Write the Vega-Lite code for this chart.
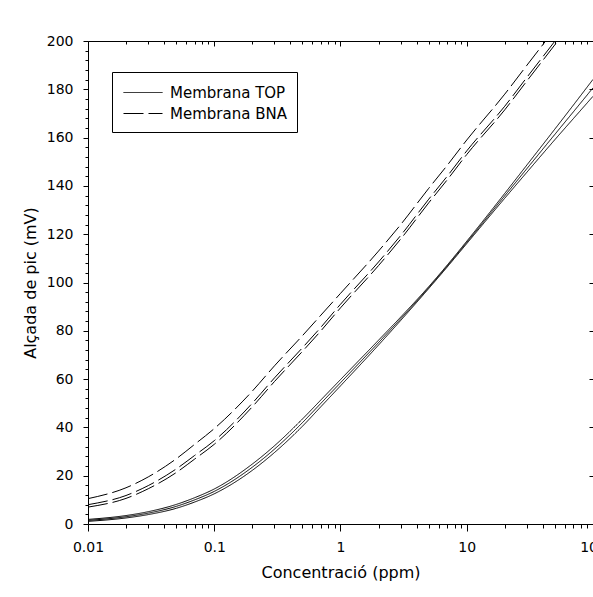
{
  "$schema": "https://vega.github.io/schema/vega-lite/v6.json",
  "width": 505,
  "height": 483,
  "autosize": {"type": "none"},
  "padding": {"left": 88, "top": 41, "right": 0, "bottom": 73},
  "background": "white",
  "config": {
    "view": {"stroke": null},
    "font": "DejaVu Sans",
    "axis": {"domainColor": "black", "tickColor": "black", "labelColor": "black", "titleColor": "black", "grid": false, "domainWidth": 1, "tickWidth": 1}
  },
  "datasets": {
    "curves": [
      {"c": 0.01, "v": 1.5, "s": "TOP", "m": "Membrana TOP"},
      {"c": 0.02, "v": 3.0, "s": "TOP", "m": "Membrana TOP"},
      {"c": 0.03, "v": 4.5, "s": "TOP", "m": "Membrana TOP"},
      {"c": 0.05, "v": 7.3, "s": "TOP", "m": "Membrana TOP"},
      {"c": 0.07, "v": 10.0, "s": "TOP", "m": "Membrana TOP"},
      {"c": 0.1, "v": 13.5, "s": "TOP", "m": "Membrana TOP"},
      {"c": 0.2, "v": 23.5, "s": "TOP", "m": "Membrana TOP"},
      {"c": 0.3, "v": 31, "s": "TOP", "m": "Membrana TOP"},
      {"c": 0.5, "v": 42, "s": "TOP", "m": "Membrana TOP"},
      {"c": 0.7, "v": 50, "s": "TOP", "m": "Membrana TOP"},
      {"c": 1, "v": 58.5, "s": "TOP", "m": "Membrana TOP"},
      {"c": 2, "v": 75.1, "s": "TOP", "m": "Membrana TOP"},
      {"c": 3, "v": 85, "s": "TOP", "m": "Membrana TOP"},
      {"c": 5, "v": 97.9, "s": "TOP", "m": "Membrana TOP"},
      {"c": 7, "v": 106.8, "s": "TOP", "m": "Membrana TOP"},
      {"c": 10, "v": 116.6, "s": "TOP", "m": "Membrana TOP"},
      {"c": 20, "v": 135.9, "s": "TOP", "m": "Membrana TOP"},
      {"c": 30, "v": 147.2, "s": "TOP", "m": "Membrana TOP"},
      {"c": 50, "v": 161.4, "s": "TOP", "m": "Membrana TOP"},
      {"c": 70, "v": 170.7, "s": "TOP", "m": "Membrana TOP"},
      {"c": 100, "v": 180.6, "s": "TOP", "m": "Membrana TOP"},

      {"c": 0.01, "v": 1.9, "s": "TOP_up", "m": "Membrana TOP"},
      {"c": 0.02, "v": 3.5, "s": "TOP_up", "m": "Membrana TOP"},
      {"c": 0.03, "v": 5.1, "s": "TOP_up", "m": "Membrana TOP"},
      {"c": 0.05, "v": 8.1, "s": "TOP_up", "m": "Membrana TOP"},
      {"c": 0.07, "v": 10.9, "s": "TOP_up", "m": "Membrana TOP"},
      {"c": 0.1, "v": 14.5, "s": "TOP_up", "m": "Membrana TOP"},
      {"c": 0.2, "v": 24.8, "s": "TOP_up", "m": "Membrana TOP"},
      {"c": 0.3, "v": 32.4, "s": "TOP_up", "m": "Membrana TOP"},
      {"c": 0.5, "v": 43.5, "s": "TOP_up", "m": "Membrana TOP"},
      {"c": 0.7, "v": 51.4, "s": "TOP_up", "m": "Membrana TOP"},
      {"c": 1, "v": 59.8, "s": "TOP_up", "m": "Membrana TOP"},
      {"c": 2, "v": 76.1, "s": "TOP_up", "m": "Membrana TOP"},
      {"c": 3, "v": 85.7, "s": "TOP_up", "m": "Membrana TOP"},
      {"c": 5, "v": 98.3, "s": "TOP_up", "m": "Membrana TOP"},
      {"c": 7, "v": 107.2, "s": "TOP_up", "m": "Membrana TOP"},
      {"c": 10, "v": 117.1, "s": "TOP_up", "m": "Membrana TOP"},
      {"c": 20, "v": 136.9, "s": "TOP_up", "m": "Membrana TOP"},
      {"c": 30, "v": 148.7, "s": "TOP_up", "m": "Membrana TOP"},
      {"c": 50, "v": 163.6, "s": "TOP_up", "m": "Membrana TOP"},
      {"c": 70, "v": 173.5, "s": "TOP_up", "m": "Membrana TOP"},
      {"c": 100, "v": 184.1, "s": "TOP_up", "m": "Membrana TOP"},

      {"c": 0.01, "v": 1.1, "s": "TOP_lo", "m": "Membrana TOP"},
      {"c": 0.02, "v": 2.5, "s": "TOP_lo", "m": "Membrana TOP"},
      {"c": 0.03, "v": 3.9, "s": "TOP_lo", "m": "Membrana TOP"},
      {"c": 0.05, "v": 6.5, "s": "TOP_lo", "m": "Membrana TOP"},
      {"c": 0.07, "v": 9.1, "s": "TOP_lo", "m": "Membrana TOP"},
      {"c": 0.1, "v": 12.5, "s": "TOP_lo", "m": "Membrana TOP"},
      {"c": 0.2, "v": 22.2, "s": "TOP_lo", "m": "Membrana TOP"},
      {"c": 0.3, "v": 29.6, "s": "TOP_lo", "m": "Membrana TOP"},
      {"c": 0.5, "v": 40.5, "s": "TOP_lo", "m": "Membrana TOP"},
      {"c": 0.7, "v": 48.6, "s": "TOP_lo", "m": "Membrana TOP"},
      {"c": 1, "v": 57.2, "s": "TOP_lo", "m": "Membrana TOP"},
      {"c": 2, "v": 74.1, "s": "TOP_lo", "m": "Membrana TOP"},
      {"c": 3, "v": 84.3, "s": "TOP_lo", "m": "Membrana TOP"},
      {"c": 5, "v": 97.5, "s": "TOP_lo", "m": "Membrana TOP"},
      {"c": 7, "v": 106.4, "s": "TOP_lo", "m": "Membrana TOP"},
      {"c": 10, "v": 116.1, "s": "TOP_lo", "m": "Membrana TOP"},
      {"c": 20, "v": 134.9, "s": "TOP_lo", "m": "Membrana TOP"},
      {"c": 30, "v": 145.7, "s": "TOP_lo", "m": "Membrana TOP"},
      {"c": 50, "v": 159.2, "s": "TOP_lo", "m": "Membrana TOP"},
      {"c": 70, "v": 167.9, "s": "TOP_lo", "m": "Membrana TOP"},
      {"c": 100, "v": 177.1, "s": "TOP_lo", "m": "Membrana TOP"},

      {"c": 0.01, "v": 10.5, "s": "BNA_up", "m": "Membrana BNA"},
      {"c": 0.02, "v": 15, "s": "BNA_up", "m": "Membrana BNA"},
      {"c": 0.03, "v": 19.5, "s": "BNA_up", "m": "Membrana BNA"},
      {"c": 0.05, "v": 27, "s": "BNA_up", "m": "Membrana BNA"},
      {"c": 0.07, "v": 33, "s": "BNA_up", "m": "Membrana BNA"},
      {"c": 0.1, "v": 39.5, "s": "BNA_up", "m": "Membrana BNA"},
      {"c": 0.2, "v": 55, "s": "BNA_up", "m": "Membrana BNA"},
      {"c": 0.3, "v": 65.5, "s": "BNA_up", "m": "Membrana BNA"},
      {"c": 0.5, "v": 78, "s": "BNA_up", "m": "Membrana BNA"},
      {"c": 0.7, "v": 86.5, "s": "BNA_up", "m": "Membrana BNA"},
      {"c": 1, "v": 95.5, "s": "BNA_up", "m": "Membrana BNA"},
      {"c": 2, "v": 113, "s": "BNA_up", "m": "Membrana BNA"},
      {"c": 3, "v": 124, "s": "BNA_up", "m": "Membrana BNA"},
      {"c": 5, "v": 139, "s": "BNA_up", "m": "Membrana BNA"},
      {"c": 7, "v": 148.5, "s": "BNA_up", "m": "Membrana BNA"},
      {"c": 10, "v": 159, "s": "BNA_up", "m": "Membrana BNA"},
      {"c": 20, "v": 178, "s": "BNA_up", "m": "Membrana BNA"},
      {"c": 30, "v": 190, "s": "BNA_up", "m": "Membrana BNA"},
      {"c": 50, "v": 205, "s": "BNA_up", "m": "Membrana BNA"},
      {"c": 70, "v": 215, "s": "BNA_up", "m": "Membrana BNA"},
      {"c": 100, "v": 225, "s": "BNA_up", "m": "Membrana BNA"},

      {"c": 0.01, "v": 8, "s": "BNA", "m": "Membrana BNA"},
      {"c": 0.02, "v": 11.8, "s": "BNA", "m": "Membrana BNA"},
      {"c": 0.03, "v": 15.9, "s": "BNA", "m": "Membrana BNA"},
      {"c": 0.05, "v": 22.8, "s": "BNA", "m": "Membrana BNA"},
      {"c": 0.07, "v": 28.4, "s": "BNA", "m": "Membrana BNA"},
      {"c": 0.1, "v": 34.5, "s": "BNA", "m": "Membrana BNA"},
      {"c": 0.2, "v": 50, "s": "BNA", "m": "Membrana BNA"},
      {"c": 0.3, "v": 60.5, "s": "BNA", "m": "Membrana BNA"},
      {"c": 0.5, "v": 73, "s": "BNA", "m": "Membrana BNA"},
      {"c": 0.7, "v": 81.5, "s": "BNA", "m": "Membrana BNA"},
      {"c": 1, "v": 91, "s": "BNA", "m": "Membrana BNA"},
      {"c": 2, "v": 108.5, "s": "BNA", "m": "Membrana BNA"},
      {"c": 3, "v": 119.5, "s": "BNA", "m": "Membrana BNA"},
      {"c": 5, "v": 134.5, "s": "BNA", "m": "Membrana BNA"},
      {"c": 7, "v": 144, "s": "BNA", "m": "Membrana BNA"},
      {"c": 10, "v": 154.5, "s": "BNA", "m": "Membrana BNA"},
      {"c": 20, "v": 173, "s": "BNA", "m": "Membrana BNA"},
      {"c": 30, "v": 185, "s": "BNA", "m": "Membrana BNA"},
      {"c": 50, "v": 200, "s": "BNA", "m": "Membrana BNA"},
      {"c": 70, "v": 210, "s": "BNA", "m": "Membrana BNA"},
      {"c": 100, "v": 220, "s": "BNA", "m": "Membrana BNA"},

      {"c": 0.01, "v": 7, "s": "BNA_lo", "m": "Membrana BNA"},
      {"c": 0.02, "v": 10.6, "s": "BNA_lo", "m": "Membrana BNA"},
      {"c": 0.03, "v": 14.6, "s": "BNA_lo", "m": "Membrana BNA"},
      {"c": 0.05, "v": 21.3, "s": "BNA_lo", "m": "Membrana BNA"},
      {"c": 0.07, "v": 26.9, "s": "BNA_lo", "m": "Membrana BNA"},
      {"c": 0.1, "v": 33, "s": "BNA_lo", "m": "Membrana BNA"},
      {"c": 0.2, "v": 48.5, "s": "BNA_lo", "m": "Membrana BNA"},
      {"c": 0.3, "v": 59, "s": "BNA_lo", "m": "Membrana BNA"},
      {"c": 0.5, "v": 71.5, "s": "BNA_lo", "m": "Membrana BNA"},
      {"c": 0.7, "v": 80, "s": "BNA_lo", "m": "Membrana BNA"},
      {"c": 1, "v": 89.5, "s": "BNA_lo", "m": "Membrana BNA"},
      {"c": 2, "v": 107, "s": "BNA_lo", "m": "Membrana BNA"},
      {"c": 3, "v": 118, "s": "BNA_lo", "m": "Membrana BNA"},
      {"c": 5, "v": 133, "s": "BNA_lo", "m": "Membrana BNA"},
      {"c": 7, "v": 142.5, "s": "BNA_lo", "m": "Membrana BNA"},
      {"c": 10, "v": 153, "s": "BNA_lo", "m": "Membrana BNA"},
      {"c": 20, "v": 171.5, "s": "BNA_lo", "m": "Membrana BNA"},
      {"c": 30, "v": 183.5, "s": "BNA_lo", "m": "Membrana BNA"},
      {"c": 50, "v": 198.5, "s": "BNA_lo", "m": "Membrana BNA"},
      {"c": 70, "v": 208.5, "s": "BNA_lo", "m": "Membrana BNA"},
      {"c": 100, "v": 218.5, "s": "BNA_lo", "m": "Membrana BNA"}
    ]
  },
  "data": {"name": "curves"},
  "layer": [
    {
      "mark": {"type": "line", "clip": true, "strokeWidth": 1, "interpolate": "monotone", "color": "black"},
      "encoding": {
        "x": {
          "field": "c", "type": "quantitative",
          "scale": {"type": "log", "domain": [0.01, 100]},
          "axis": {
            "orient": "bottom",
            "values": [0.01,0.02,0.03,0.04,0.05,0.06,0.07,0.08,0.09,0.1,0.2,0.3,0.4,0.5,0.6,0.7,0.8,0.9,1,2,3,4,5,6,7,8,9,10,20,30,40,50,60,70,80,90,100],
            "format": "~g",
            "labelExpr": "abs(log(datum.value)/LN10 - round(log(datum.value)/LN10)) < 0.001 ? datum.label : ''",
            "tickSize": {"condition": {"test": "abs(log(datum.value)/LN10 - round(log(datum.value)/LN10)) < 0.001", "value": 7}, "value": 4},
            "labelFlush": false,
            "labelOverlap": false,
            "labelBound": false,
            "labelFontSize": 14,
            "labelPadding": 9,
            "title": "Concentració (ppm)",
            "titleFontSize": 16,
            "titleFontWeight": "normal",
            "titlePadding": 10
          }
        },
        "y": {
          "field": "v", "type": "quantitative",
          "scale": {"domain": [0, 200], "nice": false},
          "axis": {
            "orient": "left",
            "values": [0,4,8,12,16,20,24,28,32,36,40,44,48,52,56,60,64,68,72,76,80,84,88,92,96,100,104,108,112,116,120,124,128,132,136,140,144,148,152,156,160,164,168,172,176,180,184,188,192,196,200],
            "labelExpr": "datum.value % 20 == 0 ? datum.label : ''",
            "tickSize": {"condition": {"test": "datum.value % 20 == 0", "value": 5}, "value": 3},
            "labelFlush": false,
            "labelOverlap": false,
            "labelFontSize": 14,
            "labelPadding": 10,
            "title": "Alçada de pic (mV)",
            "titleFontSize": 16,
            "titleFontWeight": "normal",
            "titlePadding": 8
          }
        },
        "detail": {"field": "s", "type": "nominal"},
        "strokeDash": {
          "field": "m", "type": "nominal",
          "scale": {"domain": ["Membrana TOP", "Membrana BNA"], "range": [[1, 0], [20, 5]]},
          "legend": {
            "orient": "none",
            "legendX": 24,
            "legendY": 31,
            "title": null,
            "strokeColor": "black",
            "fillColor": "white",
            "padding": 10,
            "symbolType": "M-0.9,0H3",
            "symbolSize": 400,
            "symbolStrokeWidth": 1,
            "symbolStrokeColor": "black",
            "symbolFillColor": "transparent",
            "labelFontSize": 15,
            "labelColor": "black",
            "labelOffset": 27,
            "rowPadding": 2
          }
        }
      }
    },
    {
      "mark": {"type": "point", "opacity": 0},
      "encoding": {
        "x": {
          "field": "c", "type": "quantitative",
          "axis": {
            "orient": "top",
            "values": [0.01,0.02,0.03,0.04,0.05,0.06,0.07,0.08,0.09,0.1,0.2,0.3,0.4,0.5,0.6,0.7,0.8,0.9,1,2,3,4,5,6,7,8,9,10,20,30,40,50,60,70,80,90,100],
            "labels": false,
            "title": null,
            "tickSize": {"condition": {"test": "abs(log(datum.value)/LN10 - round(log(datum.value)/LN10)) < 0.001", "value": -5}, "value": -3}
          }
        },
        "y": {
          "field": "v", "type": "quantitative",
          "axis": {
            "orient": "right",
            "values": [0,20,40,60,80,100,120,140,160,180,200],
            "labels": false,
            "title": null,
            "tickSize": -4
          }
        }
      }
    }
  ],
  "resolve": {"axis": {"x": "independent", "y": "independent"}}
}
